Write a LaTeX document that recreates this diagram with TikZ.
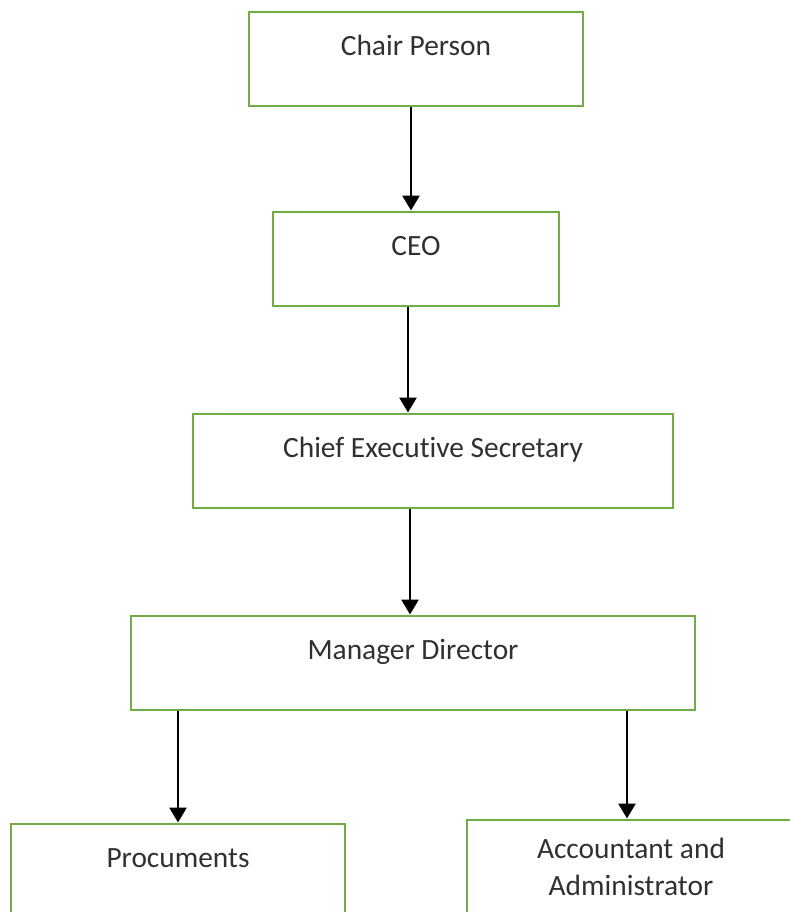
\documentclass[tikz,border=0pt]{standalone}
\usepackage{fontspec}
\setmainfont{Carlito}[Ligatures=NoCommon]
\usetikzlibrary{positioning,arrows.meta}
\definecolor{boxgreen}{HTML}{70AD47}
\definecolor{inkgray}{HTML}{303030}

\begin{document}
\begin{tikzpicture}[x=0.5pt, y=-0.5pt, node distance={52pt},
    unit/.style = {draw=boxgreen, line width=1pt, minimum height=47pt, inner sep=0pt,
                   font=\fontsize{14.7}{18.5}\selectfont, text=inkgray},
    post/.style = {unit, text height=10pt, text depth=13.5pt},
    arr/.style = {line width=1.4pt, -{Triangle[length=7.5pt, width=8.5pt]}}]
        \useasboundingbox (0,0) rectangle (789,912);
        \node[post, minimum width=167pt] (chair) at (416,58.5) {Chair Person};
        \node[post, minimum width=143pt] (ceo) [below=of chair] {CEO};
        \node[post, minimum width=240pt] (ces) [below=53pt of ceo, xshift=8.5pt] {Chief Executive Secretary};
        \node[post, minimum width=282pt] (md) [below=53pt of ces, xshift=-10pt] {Manager Director};
        \node[post, minimum width=167pt] (proc) [below=56pt of md, xshift=-117.5pt] {Procuments};
        \node[unit, minimum width=164pt, align=center] (acc) [below=54pt of md, xshift=109pt] {Accountant and\\Administrator};

        \draw[arr] ([xshift=-2.5pt]chair.south) -- ([xshift=-2.5pt]ceo.north);
        \draw[arr] ([xshift=-4pt]ceo.south) -- ([xshift=-4pt]ceo.south |- ces.north);
        \draw[arr] ([xshift=-1.5pt]ces.south -| md.north) -- ([xshift=-1.5pt]md.north);
        \draw[arr] (md.south -| proc.north) -- (proc.north);
        \draw[arr] ([xshift=-2pt]md.south -| acc.north) -- ([xshift=-2pt]acc.north);
    \end{tikzpicture}
\end{document}
